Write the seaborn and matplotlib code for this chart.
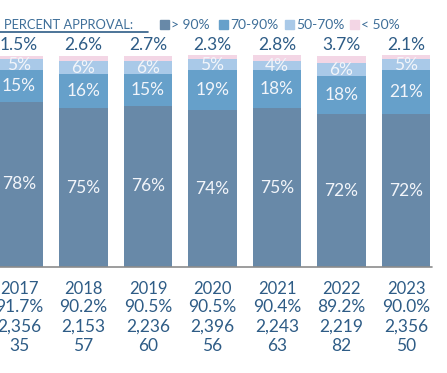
import matplotlib
matplotlib.use("Agg")
import matplotlib.pyplot as plt
import seaborn as sns
import pandas as pd
import numpy as np

years = ["2017", "2018", "2019", "2020", "2021", "2022", "2023"]
pct_gt90 = [78, 75, 76, 74, 75, 72, 72]
pct_70_90 = [15, 16, 15, 19, 18, 18, 21]
pct_50_70 = [5, 6, 6, 5, 4, 6, 5]
pct_lt50 = [1.5, 2.6, 2.7, 2.3, 2.8, 3.7, 2.1]
overall = ["91.7%", "90.2%", "90.5%", "90.5%", "90.4%", "89.2%", "90.0%"]
counts = ["2,356", "2,153", "2,236", "2,396", "2,243", "2,219", "2,356"]
others = ["35", "57", "60", "56", "63", "82", "50"]

legend_labels = ["> 90%", "70-90%", "50-70%", "< 50%"]
colors = ["#6889a8", "#66a0ca", "#a9c9e8", "#f3d6e5"]
navy = "#2e5c86"

sns.set_theme(style="white")
plt.rcParams["font.family"] = ["Lato", "DejaVu Sans"]

df = pd.DataFrame({"year": years, "g1": pct_gt90, "g2": pct_70_90,
                   "g3": pct_50_70, "g4": pct_lt50})
c1 = df["g1"]
c2 = c1 + df["g2"]
c3 = c2 + df["g3"]
c4 = c3 + df["g4"]
df["c1"], df["c2"], df["c3"], df["c4"] = c1, c2, c3, c4

fig = plt.figure(figsize=(4.47, 3.73), dpi=100)
ax = fig.add_axes([0, 0.284, 1, 0.5685])

for col, colr in zip(["c4", "c3", "c2", "c1"], colors[::-1]):
    sns.barplot(data=df, x="year", y=col, color=colr, width=0.745,
                linewidth=0, saturation=1, ax=ax, order=years)

ax.set_xlim(-0.295, 6.636)
ax.set_ylim(0, 100)
ax.axis("off")

# baseline
ax.plot([-0.4, 6.4], [0, 0], color="#8c8c8c", lw=1.2, clip_on=False, zorder=5)

inner = "#f2f5fa"
fs = 12.5
for i in range(len(years)):
    ax.text(i, c1[i] / 2, f"{pct_gt90[i]}%", ha="center", va="center",
            color=inner, fontsize=fs)
    ax.text(i, c1[i] + pct_70_90[i] / 2, f"{pct_70_90[i]}%", ha="center",
            va="center", color=inner, fontsize=fs)
    ax.text(i, c2[i] + pct_50_70[i] / 2, f"{pct_50_70[i]}%", ha="center",
            va="center", color=inner, fontsize=fs)
    ax.text(i, 104.5, f"{pct_lt50[i]}%", ha="center", va="center",
            color=navy, fontsize=fs)
    ax.text(i, -10.3, years[i], ha="center", va="center", color=navy, fontsize=12)
    ax.text(i, -19.0, overall[i], ha="center", va="center", color=navy, fontsize=fs)
    ax.text(i, -28.2, counts[i], ha="center", va="center", color=navy, fontsize=fs)
    ax.text(i, -37.0, others[i], ha="center", va="center", color=navy, fontsize=fs)

# legend header
fig.text(4 / 447, 1 - 25 / 373, "PERCENT APPROVAL:", color="#3f6f99",
         fontsize=9.3, ha="left", va="center")
fig.add_artist(plt.Line2D([0, 148 / 447], [1 - 32 / 373, 1 - 32 / 373],
                          color="#2e5c86", lw=1.2))
leg_x = [160, 219, 285, 350]
for x, lab, colr in zip(leg_x, legend_labels, colors):
    fig.patches.append(plt.Rectangle((x / 447, 1 - 29 / 373), 9 / 447, 9 / 373,
                                     transform=fig.transFigure, color=colr,
                                     figure=fig))
    fig.text((x + 11) / 447, 1 - 25 / 373, lab, color="#3f6f99", fontsize=10,
             ha="left", va="center")

fig.savefig("out.png", dpi=100)
